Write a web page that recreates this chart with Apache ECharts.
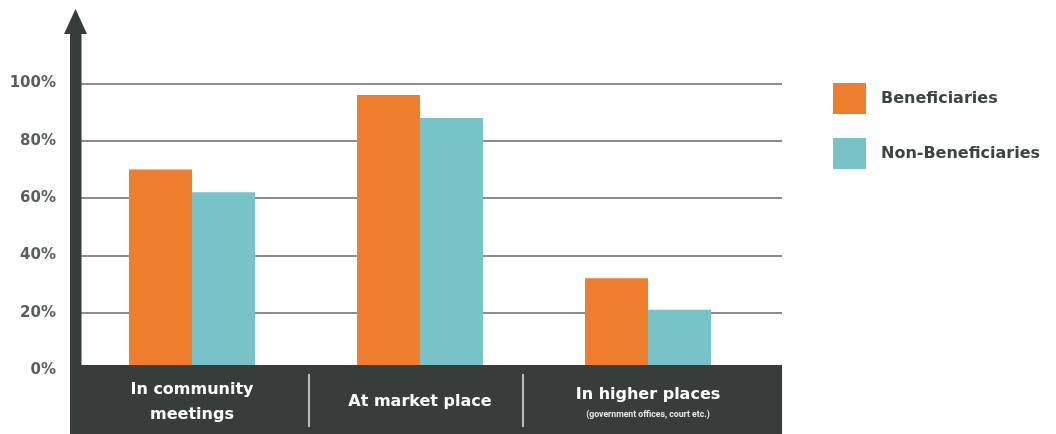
<!DOCTYPE html>
<html>
<head>
<meta charset="utf-8">
<script src="https://cdn.jsdelivr.net/npm/echarts@6/dist/echarts.min.js"></script>
<style>html,body{margin:0;padding:0;background:#fff}#c{width:1056px;height:434px}</style>
</head>
<body>
<div id="c"></div>
<script>
var categories = ['In community\nmeetings', 'At market place', 'In higher places'];
var categoryNotes = ['', '', '(government offices, court etc.)'];
var seriesNames = ['Beneficiaries', 'Non-Beneficiaries'];
var beneficiaries = [70, 96, 32];
var nonBeneficiaries = [62, 88, 21];
var yTicks = [0, 20, 40, 60, 80, 100];

var FONT = '"DejaVu Sans", sans-serif';
var NOTE_FONT = 'Roboto, sans-serif';
var DARK = '#363d3b';
var chart = echarts.init(document.getElementById('c'));

chart.setOption({
  animation: false,
  backgroundColor: '#ffffff',
  grid: [
    {left: 78, right: 1056 - 762, top: 83.5, bottom: 64},
    {left: 81, right: 1056 - 782, top: 83.5, bottom: 64}
  ],
  xAxis: [
    {
      type: 'category', gridIndex: 0, data: categories, z: 20,
      axisLine: {show: false}, axisTick: {show: false},
      axisLabel: {
        interval: 0, margin: 32, verticalAlign: 'middle', align: 'center',
        formatter: function (v, i) {
          var lines = v.split('\n').map(function (l) { return '{a|' + l + '}'; }).join('\n');
          return categoryNotes[i] ? lines + '\n{s|' + categoryNotes[i] + '}' : lines;
        },
        rich: {
          a: {fontFamily: FONT, fontSize: 16, fontWeight: 'bold', color: '#ffffff', lineHeight: 25, align: 'center'},
          s: {fontFamily: NOTE_FONT, fontSize: 8.7, fontWeight: 'bold', color: '#e6e6e6', lineHeight: 14, align: 'center'}
        }
      }
    },
    {type: 'value', gridIndex: 1, show: false, min: 0, max: 1}
  ],
  yAxis: [
    {type: 'value', gridIndex: 0, min: 0, max: 100, interval: 20, show: false},
    {
      type: 'value', gridIndex: 1, min: 0, max: 100, interval: 20,
      axisLine: {show: false}, axisTick: {show: false},
      splitLine: {show: true, lineStyle: {color: '#8c8c8c', width: 2}},
      axisLabel: {
        margin: 25, fontFamily: FONT, fontSize: 15, fontWeight: 'bold', color: '#595e5e',
        formatter: function (v) { return yTicks.indexOf(v) >= 0 ? v + '%' : ''; }
      }
    }
  ],
  legend: {
    orient: 'vertical', left: 828, top: 78, itemWidth: 33, itemHeight: 31, itemGap: 24,
    icon: 'rect', data: seriesNames,
    textStyle: {fontFamily: FONT, fontSize: 16, fontWeight: 'bold', color: '#3d4343', padding: [0, 0, 0, 10]}
  },
  series: [
    {name: seriesNames[0], type: 'bar', xAxisIndex: 0, yAxisIndex: 0, data: beneficiaries,
     barWidth: 63, barGap: '0%', itemStyle: {color: '#ee7d2d'}, z: 3},
    {name: seriesNames[1], type: 'bar', xAxisIndex: 0, yAxisIndex: 0, data: nonBeneficiaries,
     barWidth: 63, barGap: '0%', itemStyle: {color: '#78c3c7'}, z: 3}
  ],
  graphic: [
    {type: 'rect', z: 10, shape: {x: 70, y: 365, width: 712, height: 69}, style: {fill: DARK}},
    {type: 'rect', z: 10, shape: {x: 70, y: 30, width: 11.5, height: 404}, style: {fill: DARK}},
    {type: 'polygon', z: 10, shape: {points: [[75.5, 9], [87, 34], [64, 34]]}, style: {fill: DARK}},
    {type: 'line', z: 11, shape: {x1: 309, y1: 374, x2: 309, y2: 427}, style: {stroke: '#b9bdbc', lineWidth: 2}},
    {type: 'line', z: 11, shape: {x1: 523, y1: 374, x2: 523, y2: 427}, style: {stroke: '#b9bdbc', lineWidth: 2}}
  ]
});
</script>
</body>
</html>
